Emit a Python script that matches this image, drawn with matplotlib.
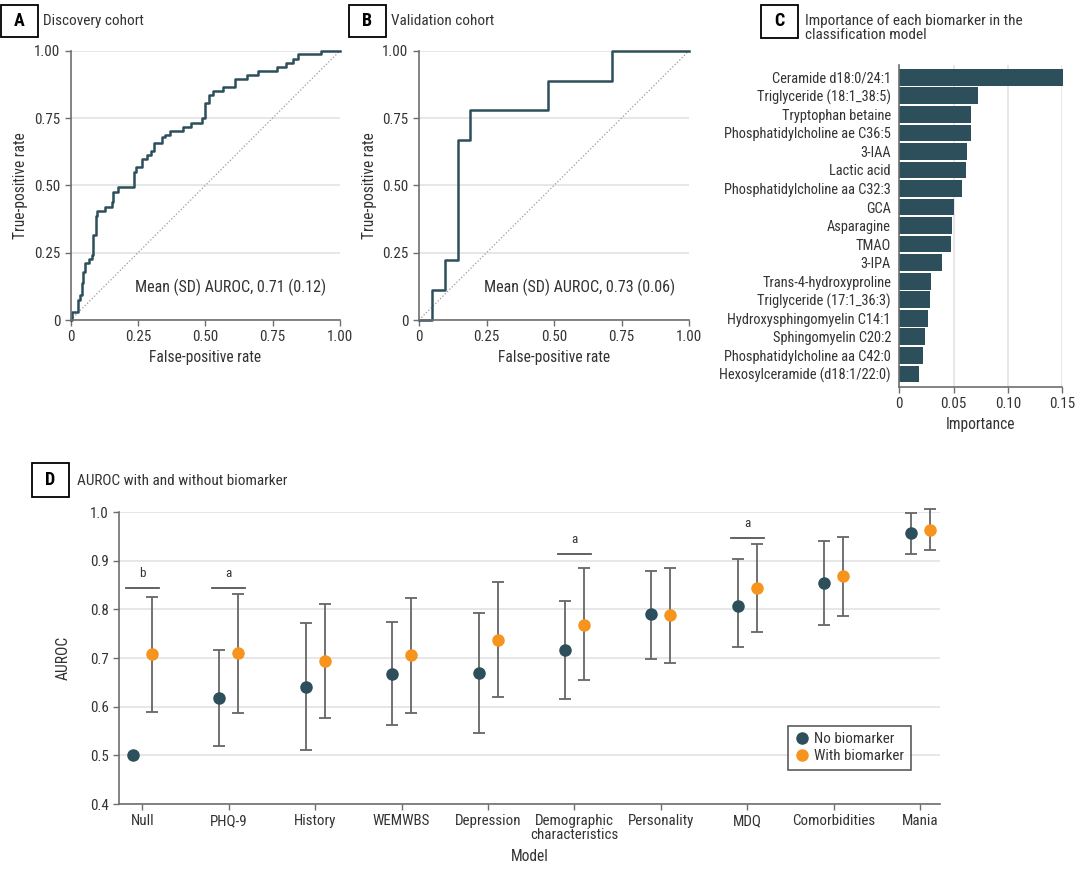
import matplotlib
matplotlib.use("Agg")
import matplotlib.pyplot as plt
from matplotlib.patches import Rectangle
import numpy as np

plt.rcParams['font.family'] = ['Roboto Condensed', 'Roboto', 'DejaVu Sans']

# ---- data ----
# ROC discovery cohort (step corners: fpr, tpr after the rise)
fprA = [0, 0.004, 0.026, 0.035, 0.041, 0.047, 0.053, 0.069, 0.078, 0.084, 0.093, 0.099,
        0.127, 0.152, 0.158, 0.177, 0.235, 0.243, 0.264, 0.282, 0.297, 0.309, 0.338,
        0.350, 0.369, 0.418, 0.447, 0.489, 0.499, 0.515, 0.527, 0.567, 0.610, 0.656,
        0.697, 0.767, 0.800, 0.827, 0.845, 0.928, 1.0]
tprA = [0, 0.031, 0.074, 0.094, 0.136, 0.180, 0.210, 0.225, 0.241, 0.315, 0.386, 0.406,
        0.420, 0.440, 0.476, 0.493, 0.551, 0.567, 0.597, 0.613, 0.629, 0.656, 0.681,
        0.687, 0.703, 0.718, 0.733, 0.749, 0.807, 0.835, 0.851, 0.866, 0.894, 0.910,
        0.926, 0.941, 0.955, 0.971, 0.986, 1.0, 1.0]
# ROC validation cohort
fprB = [0, 0.048, 0.095, 0.143, 0.190, 0.476, 0.714, 1.0]
tprB = [0, 0.111, 0.222, 0.667, 0.778, 0.889, 1.0, 1.0]

biomarkers = ["Ceramide d18:0/24:1", "Triglyceride (18:1_38:5)", "Tryptophan betaine",
              "Phosphatidylcholine ae C36:5", "3-IAA", "Lactic acid",
              "Phosphatidylcholine aa C32:3", "GCA", "Asparagine", "TMAO", "3-IPA",
              "Trans-4-hydroxyproline", "Triglyceride (17:1_36:3)",
              "Hydroxysphingomyelin C14:1", "Sphingomyelin C20:2",
              "Phosphatidylcholine aa C42:0", "Hexosylceramide (d18:1/22:0)"]
importance = [0.151, 0.0722, 0.0661, 0.0658, 0.0624, 0.0618, 0.0578, 0.0501, 0.0483,
              0.0473, 0.0397, 0.0289, 0.0280, 0.0267, 0.0237, 0.0221, 0.0181]

models = ["Null", "PHQ-9", "History", "WEMWBS", "Depression", "Demographic\ncharacteristics",
          "Personality", "MDQ", "Comorbidities", "Mania"]
no_bio = [0.500, 0.617, 0.640, 0.668, 0.669, 0.716, 0.790, 0.807, 0.854, 0.957]
no_bio_lo = [np.nan, 0.520, 0.511, 0.562, 0.546, 0.616, 0.697, 0.723, 0.768, 0.913]
no_bio_hi = [np.nan, 0.716, 0.772, 0.774, 0.793, 0.817, 0.879, 0.904, 0.941, 0.997]
with_bio = [0.708, 0.711, 0.694, 0.706, 0.736, 0.768, 0.788, 0.844, 0.869, 0.962]
with_bio_lo = [0.590, 0.587, 0.577, 0.587, 0.619, 0.654, 0.689, 0.754, 0.787, 0.921]
with_bio_hi = [0.825, 0.832, 0.811, 0.824, 0.856, 0.884, 0.884, 0.934, 0.948, 1.007]
sig_idx = [0, 1, 5, 7]
sig_lab = ["b", "a", "a", "a"]
sig_y = [0.844, 0.844, 0.913, 0.947]

teal = "#2c4f5b"
orange = "#f7941d"
txt = "#333333"
spine = "#6e6e6e"
gridc = "#e3e3e3"

fig = plt.figure(figsize=(10.8, 8.86), dpi=100)
W, H = 1080., 886.

def ax_px(l, t, r, b):
    return fig.add_axes([l/W, 1-b/H, (r-l)/W, (b-t)/H])

def panel_label(letter, l, t, r, b, title, tx, ty):
    fig.patches.append(Rectangle((l/W, 1-b/H), (r-l)/W, (b-t)/H, transform=fig.transFigure,
                                 fill=False, edgecolor="black", linewidth=1.3))
    fig.text((l+r)/2/W, 1-(t+b)/2/H, letter, ha="center", va="center",
             fontsize=13, fontweight="bold", color="black")
    fig.text(tx/W, 1-ty/H, title, ha="left", va="top", fontsize=11, color=txt,
             linespacing=1.0)

def style(ax):
    for s in ["top", "right"]:
        ax.spines[s].set_visible(False)
    for s in ["left", "bottom"]:
        ax.spines[s].set_color(spine)
        ax.spines[s].set_linewidth(1.2)
    ax.tick_params(colors=spine, labelcolor=txt, labelsize=10.8, length=4, width=1)

def roc(ax, fpr, tpr, note):
    style(ax)
    ax.plot([0, 1], [0, 1], ":", color="#9a9a9a", linewidth=0.9)
    ax.plot(fpr, tpr, drawstyle="steps-post", color=teal, linewidth=1.8, clip_on=False)
    ax.set_xlim(0, 1)
    ax.set_ylim(0, 1)
    ax.set_xticks([0, 0.25, 0.5, 0.75, 1.0])
    ax.set_xticklabels(["0", "0.25", "0.50", "0.75", "1.00"])
    ax.set_yticks([0, 0.25, 0.5, 0.75, 1.0])
    ax.set_yticklabels(["0", "0.25", "0.50", "0.75", "1.00"])
    ax.yaxis.grid(True, color=gridc, linewidth=1.2)
    ax.set_axisbelow(True)
    ax.set_xlabel("False-positive rate", fontsize=11.2, color=txt)
    ax.set_ylabel("True-positive rate", fontsize=11.2, color=txt)
    ax.text(0.95, 0.12, note, ha="right", va="center", fontsize=11.5, color=txt)

# A
axA = ax_px(70.7, 50.7, 340, 320)
roc(axA, fprA, tprA, "Mean (SD) AUROC, 0.71 (0.12)")
panel_label("A", 1, 5, 38, 37, "Discovery cohort", 43, 14)

# B
axB = ax_px(419, 50.7, 689, 320)
roc(axB, fprB, tprB, "Mean (SD) AUROC, 0.73 (0.06)")
panel_label("B", 349, 5, 386, 37, "Validation cohort", 391, 14)

# C
axC = ax_px(899.3, 65, 1062, 386.7)
style(axC)
yy = np.arange(len(biomarkers))
axC.barh(yy, importance, height=0.9, color=teal, clip_on=False)
axC.set_yticks(yy)
axC.set_yticklabels(biomarkers, fontsize=10.4)
axC.tick_params(axis="y", length=0, pad=6)
axC.set_ylim(len(biomarkers)-1+0.69, -0.66)
axC.set_xlim(0, 0.15)
axC.set_xticks([0, 0.05, 0.10, 0.15])
axC.set_xticklabels(["0", "0.05", "0.10", "0.15"])
axC.xaxis.grid(True, color=gridc, linewidth=1.2)
axC.set_axisbelow(True)
axC.set_xlabel("Importance", fontsize=11.2, color=txt)
panel_label("C", 760.7, 5, 798, 38, "Importance of each biomarker in the\nclassification model", 805, 14)

# D
axD = ax_px(119, 512, 940, 804)
style(axD)
xx = np.arange(len(models))
off = 0.11
no_lo = np.array(no_bio) - np.array(no_bio_lo)
no_hi = np.array(no_bio_hi) - np.array(no_bio)
axD.errorbar(xx-off, no_bio, yerr=[no_lo, no_hi], fmt="none", ecolor="#666666",
             elinewidth=1.3, capsize=4, capthick=1.3, clip_on=False)
axD.errorbar(xx+off, with_bio,
             yerr=[np.array(with_bio)-np.array(with_bio_lo), np.array(with_bio_hi)-np.array(with_bio)],
             fmt="none", ecolor="#666666", elinewidth=1.3, capsize=4, capthick=1.3, clip_on=False)
axD.plot(xx-off, no_bio, "o", color=teal, markersize=8, label="No biomarker", zorder=3, clip_on=False)
axD.plot(xx+off, with_bio, "o", color=orange, markersize=8, label="With biomarker", zorder=3, clip_on=False)
for i, lab, y in zip(sig_idx, sig_lab, sig_y):
    axD.plot([i-0.19, i+0.19], [y, y], color="#555555", linewidth=1.3)
    axD.text(i, y+0.017, lab, ha="center", va="bottom", fontsize=9.5, color=txt)
axD.set_xlim(-0.27, len(models)-1+0.23)
axD.set_ylim(0.4, 1.0)
axD.set_xticks(xx)
axD.set_xticklabels(models, fontsize=10.8, linespacing=1.0)
axD.set_yticks([0.4, 0.5, 0.6, 0.7, 0.8, 0.9, 1.0])
axD.set_yticklabels(["0.4", "0.5", "0.6", "0.7", "0.8", "0.9", "1.0"])
axD.yaxis.grid(True, color=gridc, linewidth=1.2)
axD.set_axisbelow(True)
axD.set_xlabel("Model", fontsize=11.2, color=txt, labelpad=5)
axD.set_ylabel("AUROC", fontsize=11.2, color=txt, labelpad=14)
leg = axD.legend(loc="lower right", bbox_to_anchor=(0.974, 0.09), frameon=True, fancybox=False,
                 fontsize=10.8, handletextpad=0.3, borderpad=0.45, labelspacing=0.2,
                 handlelength=1.0, markerscale=1.0)
leg.get_frame().set_edgecolor("#333333")
leg.get_frame().set_linewidth(1.2)
for t in leg.get_texts():
    t.set_color(txt)
panel_label("D", 32, 463, 69, 497, "AUROC with and without biomarker", 77, 474)

fig.savefig("out.png", dpi=100, facecolor="white")
